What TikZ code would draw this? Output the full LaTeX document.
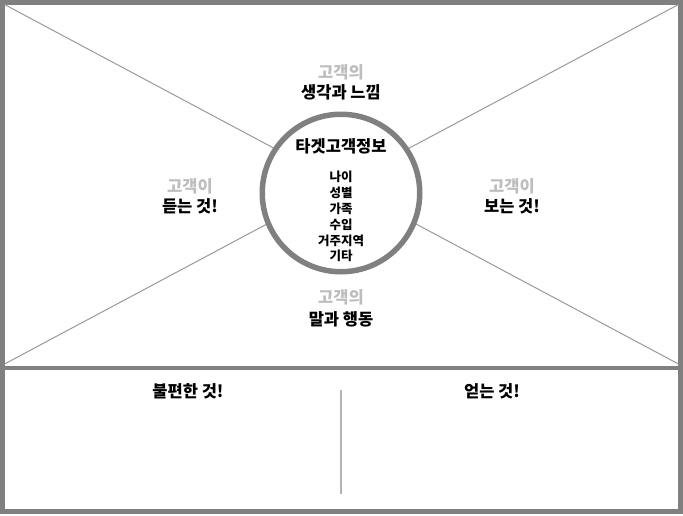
\documentclass[tikz,border=0pt]{standalone}
\usepackage{fontspec}
\setmainfont{Noto Sans CJK KR}
\definecolor{framegray}{HTML}{808080}
\definecolor{linegray}{HTML}{9A9A9A}
\definecolor{softgray}{HTML}{BDBDBD}
\definecolor{divgray}{HTML}{B4B4B4}
\tikzset{
  frame/.style={draw=framegray, line width=5pt},
  diag/.style={draw=linegray, line width=1pt},
  ring/.style={draw=framegray, line width=5.5pt, fill=white},
  subtitle/.style={text=softgray, font=\fontsize{16.5}{19}\selectfont\bfseries, inner sep=0pt},
  title/.style={text=black, font=\fontsize{16.5}{19}\selectfont\bfseries, inner sep=0pt},
  item/.style={text=black, font=\fontsize{12.5}{14}\selectfont\bfseries, inner sep=0pt},
}
\begin{document}
\begin{tikzpicture}[x=1pt,y=-1pt]
\useasboundingbox (0,0) rectangle (683,515);
% frame
\draw[frame] (2.5,2.5) rectangle (680.5,511.5);
\coordinate (dl) at (0,368);
\coordinate (dr) at (683,368);
\draw[frame, line width=4.5pt] (dl) -- (dr);
% diagonals
\coordinate (tl) at (4.5,4.5);
\coordinate (tr) at (678.5,4.5);
\coordinate (bl) at (4.5,364);
\coordinate (br) at (678.5,364);
\draw[diag] (tl) -- (br);
\draw[diag] (tr) -- (bl);
% center circle
\node[ring, circle, minimum size=157.5pt, inner sep=0pt] (c) at (341,193) {};
\node[title] (tg) at (341,146) {타겟고객정보};
\node[item] (i1) at (341,177) {나이};
\node[item] (i2) at (341,193) {성별};
\node[item] (i3) at (341,208.5) {가족};
\node[item] (i4) at (341,224.5) {수입};
\node[item] (i5) at (341,240.5) {거주지역};
\node[item] (i6) at (341,256) {기타};
% top
\node[subtitle] (ts) at (341,72) {고객의};
\node[title] (tt) at (341,92) {생각과 느낌};
% left
\node[subtitle] (ls) at (190,186) {고객이};
\node[title] (lt) at (190,206) {듣는 것!};
% right
\node[subtitle] (rs) at (512,186) {고객이};
\node[title] (rt) at (512,206) {보는 것!};
% bottom
\node[subtitle] (bs) at (341,297) {고객의};
\node[title] (bt) at (341,319) {말과 행동};
% lower section
\node[title] (pain) at (188,391) {불편한 것!};
\node[title] (gain) at (492,391) {얻는 것!};
\coordinate (vt) at (341,390);
\coordinate (vb) at (341,494);
\draw[draw=divgray, line width=1.5pt] (vt) -- (vb);
\end{tikzpicture}
\end{document}
